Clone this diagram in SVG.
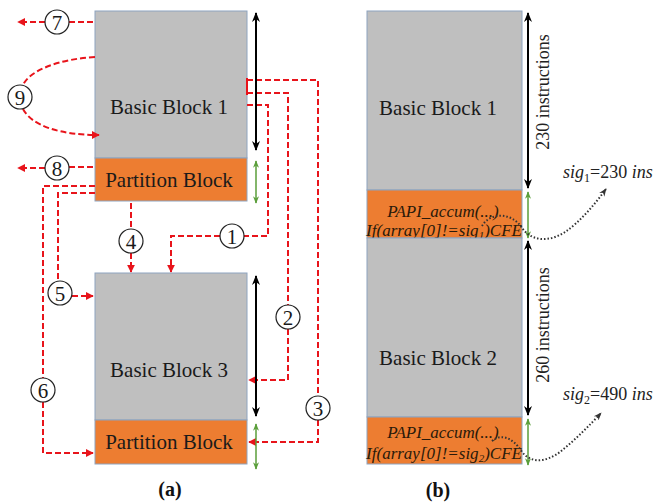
<svg xmlns="http://www.w3.org/2000/svg" width="655" height="504" viewBox="0 0 655 504">
<defs>
<style>
.bb{fill:#bfbfbf;stroke:#8ea4bf;stroke-width:1}
.pb{fill:#ed7d31;stroke:#8ea4bf;stroke-width:1}
.t{font-family:"Liberation Serif","Times New Roman",serif;font-size:21px;fill:#1a1a1a;text-anchor:middle}
.it{font-family:"Liberation Serif","Times New Roman",serif;font-size:17px;font-style:italic;fill:#2a1a0a;text-anchor:middle}
.num{font-family:"Liberation Serif","Times New Roman",serif;font-size:21px;fill:#1a1a1a;text-anchor:middle}
.circ{fill:#fff;stroke:#222;stroke-width:1.2}
.red{fill:none;stroke:#e8141b;stroke-width:2;stroke-dasharray:6 3}
.blk{fill:none;stroke:#000;stroke-width:2}
.grn{fill:none;stroke:#5a9e3a;stroke-width:1.5}
.dot{fill:none;stroke:#333;stroke-width:2;stroke-dasharray:1.5 2}
.lbl{font-family:"Liberation Serif","Times New Roman",serif;font-size:20px;font-weight:bold;fill:#111;text-anchor:middle}
.ins{font-family:"Liberation Serif","Times New Roman",serif;font-size:18px;fill:#222;text-anchor:middle}
.sig{font-family:"Liberation Serif","Times New Roman",serif;font-size:18px;fill:#222}
</style>
<marker id="ra" viewBox="0 0 10 10" refX="9" refY="5" markerWidth="4" markerHeight="4" orient="auto"><path d="M0,0 L10,5 L0,10 z" fill="#e8141b"/></marker>
<marker id="ba" viewBox="0 0 10 10" refX="9" refY="5" markerWidth="5" markerHeight="5" orient="auto-start-reverse"><path d="M0,1 L10,5 L0,9 L3,5 z" fill="#000"/></marker>
<marker id="ga" viewBox="0 0 10 10" refX="9" refY="5" markerWidth="5" markerHeight="5" orient="auto-start-reverse"><path d="M0,1 L10,5 L0,9 L3,5 z" fill="#5a9e3a"/></marker>
<marker id="da" viewBox="0 0 10 10" refX="9" refY="5" markerWidth="4" markerHeight="4" orient="auto"><path d="M0,1 L10,5 L0,9 L3,5 z" fill="#333"/></marker>
</defs>
<rect width="655" height="504" fill="#fff"/>

<!-- Panel (a) -->
<g id="a-bb1"><rect class="bb" x="95" y="11" width="152" height="147"/><text class="t" x="169" y="114">Basic Block 1</text></g>
<g id="a-pb1"><rect class="pb" x="95" y="158" width="152" height="43"/><text class="t" x="169" y="187">Partition Block</text></g>
<g id="a-bb3"><rect class="bb" x="95" y="273" width="152" height="147"/><text class="t" x="169" y="377">Basic Block 3</text></g>
<g id="a-pb3"><rect class="pb" x="95" y="420" width="152" height="44"/><text class="t" x="169" y="449">Partition Block</text></g>

<g id="connectors">
<path class="red" d="M93,22 H69"/><path class="red" d="M45,22 H18" marker-end="url(#ra)"/>
<path class="red" d="M93,167 H69"/><path class="red" d="M45,168 H18" marker-end="url(#ra)"/>
<path class="red" d="M95,57 C60,59 30,70 23,85"/>
<path class="red" d="M23,109 C32,126 60,135 99,135" marker-end="url(#ra)"/>
<path class="red" d="M95,186 H43 V378"/><path class="red" d="M43,402 V453 H93" marker-end="url(#ra)"/>
<path class="red" d="M95,193 H58 V281"/><path class="red" d="M72,296 H93" marker-end="url(#ra)"/>
<path class="red" d="M131,203 V229"/><path class="red" d="M131,253 V272" marker-end="url(#ra)"/>
<path class="red" d="M247,105 H268 V236 H244"/><path class="red" d="M220,236 H171 V272" marker-end="url(#ra)"/>
<path class="red" d="M247,93 H288 V305"/><path class="red" d="M288,329 V380 H249" marker-end="url(#ra)"/>
<path class="red" d="M247,80 H318 V396"/><path class="red" d="M318,420 V442 H249" marker-end="url(#ra)"/>
<path d="M247,78 V95" stroke="#e8141b" stroke-width="2"/>
<path class="blk" d="M256,13 V150" marker-start="url(#ba)" marker-end="url(#ba)"/>
<path class="grn" d="M256,161 V203" marker-start="url(#ga)" marker-end="url(#ga)"/>
<path class="blk" d="M256,276 V416" marker-start="url(#ba)" marker-end="url(#ba)"/>
<path class="grn" d="M256,424 V469" marker-start="url(#ga)" marker-end="url(#ga)"/>
</g>

<g id="c7"><circle class="circ" cx="57" cy="22" r="12"/><text class="num" x="57" y="29.5">7</text></g>
<g id="c8"><circle class="circ" cx="57" cy="168" r="12"/><text class="num" x="57" y="175.5">8</text></g>
<g id="c9"><circle class="circ" cx="20" cy="97" r="12"/><text class="num" x="20" y="104.5">9</text></g>
<g id="c6"><circle class="circ" cx="43" cy="390" r="12"/><text class="num" x="43" y="397.5">6</text></g>
<g id="c5"><circle class="circ" cx="60" cy="293" r="12"/><text class="num" x="60" y="300.5">5</text></g>
<g id="c4"><circle class="circ" cx="131" cy="241" r="12"/><text class="num" x="131" y="248.5">4</text></g>
<g id="c1"><circle class="circ" cx="232" cy="236" r="12"/><text class="num" x="232" y="243.5">1</text></g>
<g id="c2"><circle class="circ" cx="288" cy="317" r="12"/><text class="num" x="288" y="324.5">2</text></g>
<g id="c3"><circle class="circ" cx="318" cy="408" r="12"/><text class="num" x="318" y="415.5">3</text></g>

<text class="lbl" x="170" y="496">(a)</text>

<!-- Panel (b) -->
<g id="b-bb1"><rect class="bb" x="367" y="11" width="155" height="179"/><text class="t" x="438" y="115">Basic Block 1</text></g>
<g id="b-pb1"><rect class="pb" x="367" y="190" width="155" height="48"/>
<text class="it" x="443" y="217">PAPI_accum(...)</text>
<text class="it" x="444" y="236">If(array[0]!=sig<tspan font-size="11" dy="3">1</tspan><tspan dy="-3">)CFE</tspan></text></g>
<g id="b-bb2"><rect class="bb" x="367" y="238" width="155" height="179"/><text class="t" x="438" y="365">Basic Block 2</text></g>
<g id="b-pb2"><rect class="pb" x="367" y="417" width="155" height="47"/>
<text class="it" x="443" y="438">PAPI_accum(...)</text>
<text class="it" x="444" y="459">If(array[0]!=sig<tspan font-size="11" dy="3">2</tspan><tspan dy="-3">)CFE</tspan></text></g>

<g id="b-conn">
<path class="blk" d="M528,13 V188" marker-start="url(#ba)" marker-end="url(#ba)"/>
<path class="grn" d="M528,192 V238" marker-start="url(#ga)" marker-end="url(#ga)"/>
<path class="blk" d="M528,241 V415" marker-start="url(#ba)" marker-end="url(#ba)"/>
<path class="grn" d="M528,419 V465" marker-start="url(#ga)" marker-end="url(#ga)"/>
<path class="dot" d="M482,226 C490,212 512,212 522,228 C532,242 550,242 565,232 C580,222 595,204 606,189" marker-end="url(#da)"/>
<path class="dot" d="M492,441 C500,434 512,436 522,452 C532,464 546,462 560,452 C575,440 590,425 601,413" marker-end="url(#da)"/>
</g>
<text class="ins" transform="translate(549,92) rotate(-90)">230 instructions</text>
<text class="ins" transform="translate(549,325) rotate(-90)">260 instructions</text>
<text class="sig" x="563" y="178"><tspan font-style="italic">sig</tspan><tspan font-size="12" dy="4">1</tspan><tspan dy="-4">=230 </tspan><tspan font-style="italic">ins</tspan></text>
<text class="sig" x="563" y="400"><tspan font-style="italic">sig</tspan><tspan font-size="12" dy="4">2</tspan><tspan dy="-4">=490 </tspan><tspan font-style="italic">ins</tspan></text>
<text class="lbl" x="438" y="497">(b)</text>
</svg>
